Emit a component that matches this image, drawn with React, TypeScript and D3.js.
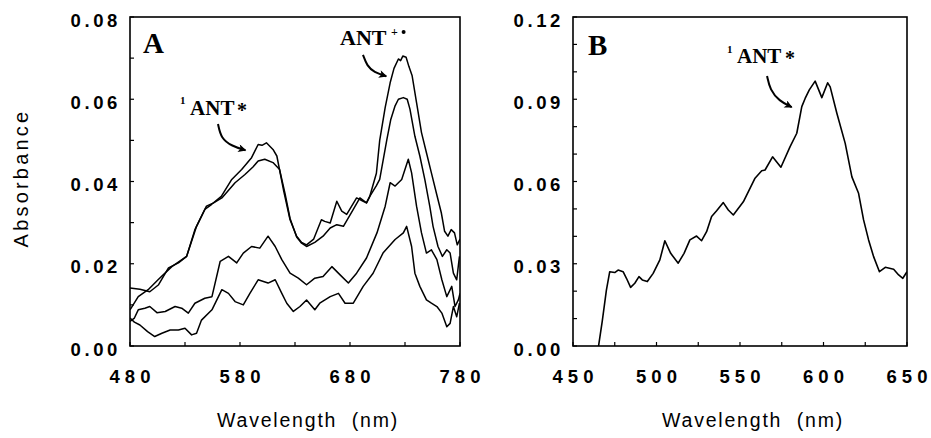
import React from 'react';
import * as d3 from 'd3';

// ---------- Data (wavelength nm, absorbance) ----------
const curveA1: [number, number][] = [
  [480, 0.0141], [489, 0.0138], [498, 0.0132], [506, 0.0149], [515, 0.019], [524, 0.0202], [531.5, 0.0218],
  [539, 0.0283], [548, 0.0332], [554, 0.0344], [563, 0.0364], [572.5, 0.0405], [581.5, 0.0429], [590.5, 0.0458],
  [596.5, 0.049], [600, 0.0488], [604, 0.0494], [610, 0.0478], [613.5, 0.0462], [619.5, 0.038], [625.5, 0.0307],
  [631.5, 0.0267], [636, 0.0252], [640.5, 0.0246], [647, 0.026], [654, 0.0307], [657, 0.0303], [662, 0.0299],
  [668, 0.0352], [672.5, 0.0328], [677, 0.032], [686, 0.036], [692, 0.0352], [695, 0.0348], [698, 0.0364],
  [704, 0.042], [707, 0.05], [712, 0.058], [716.5, 0.064], [720, 0.0675], [724, 0.0698], [726, 0.0694],
  [728, 0.0705], [731, 0.0702], [733.5, 0.068], [736.5, 0.0657], [740.5, 0.0592], [745, 0.0519], [749.5, 0.047],
  [754, 0.0421], [758.5, 0.0372], [763, 0.0324], [766, 0.0279], [769, 0.0267], [772, 0.0283], [775, 0.0275],
  [777.5, 0.0246], [780, 0.026],
];
const curveA2: [number, number][] = [
  [480, 0.0088], [487.5, 0.012], [496.5, 0.0137], [505.5, 0.0161], [518, 0.0193], [531.5, 0.0218], [540.5, 0.0291],
  [549.5, 0.034], [556, 0.0348], [563.5, 0.036], [575.5, 0.0397], [584.5, 0.0417], [592, 0.0436], [596.5, 0.045],
  [602.5, 0.0454], [610, 0.0446], [616, 0.0429], [621, 0.037], [625.5, 0.031], [631.5, 0.0265], [636, 0.025],
  [640.5, 0.0242], [648, 0.0252], [655.5, 0.0267], [662, 0.0287], [668, 0.0295], [674, 0.0291], [683, 0.0332],
  [689, 0.036], [695, 0.0348], [698, 0.0364], [704, 0.039], [707, 0.0405], [713.5, 0.0502], [717, 0.055],
  [721, 0.0584], [724, 0.06], [728.5, 0.0604], [732, 0.06], [734.5, 0.0576], [739, 0.051], [743.5, 0.0462],
  [748, 0.0405], [752.5, 0.034], [755.5, 0.0291], [760, 0.0242], [764, 0.0218], [768, 0.0234], [771, 0.0226],
  [774, 0.0177], [777, 0.0161], [779.5, 0.0218],
];
const curveA3: [number, number][] = [
  [480, 0.006], [484, 0.0068], [487.5, 0.0088], [493.5, 0.0092], [498, 0.0096], [504.5, 0.0081], [512, 0.0084],
  [521, 0.0096], [527, 0.0092], [533, 0.008], [539, 0.0104], [548, 0.0116], [554.5, 0.012], [562, 0.0206],
  [569.5, 0.0218], [577, 0.0202], [583, 0.0226], [590.5, 0.0242], [598, 0.0238], [605.5, 0.0267], [612, 0.0242],
  [618, 0.021], [625.5, 0.0177], [633, 0.0165], [640.5, 0.0149], [648, 0.0165], [655.5, 0.0169], [663.5, 0.0193],
  [671, 0.0173], [678.5, 0.0153], [686, 0.0177], [695, 0.0214], [704.5, 0.0275], [712, 0.034], [716.5, 0.0397],
  [721, 0.0389], [727, 0.0405], [733, 0.0454], [736, 0.0421], [740.5, 0.034], [745, 0.0275], [749.5, 0.0226],
  [754, 0.0234], [759, 0.021], [763.5, 0.0161], [768, 0.012], [772.5, 0.0145], [775.5, 0.0096], [778.5, 0.0112],
  [780, 0.0128],
];
const curveA4: [number, number][] = [
  [480, 0.0068], [484, 0.0058], [489, 0.0051], [496, 0.0035], [502.5, 0.0023], [509, 0.0031], [516.5, 0.0039],
  [524, 0.0039], [530, 0.0043], [536, 0.0027], [540.5, 0.0031], [545, 0.0063], [554.5, 0.0088], [563.5, 0.0137],
  [569.5, 0.0128], [575.5, 0.0108], [583, 0.01], [589, 0.0128], [596.5, 0.0161], [605.5, 0.0153], [612, 0.0161],
  [618, 0.0128], [622.5, 0.0104], [628.5, 0.0084], [634.5, 0.0096], [640.5, 0.0112], [648, 0.0088],
  [652.5, 0.0104], [662, 0.012], [669.5, 0.0128], [675.5, 0.0104], [683, 0.0104], [692, 0.0145], [701, 0.0177],
  [710, 0.0226], [721, 0.0259], [728.5, 0.0275], [731.5, 0.0291], [736, 0.0242], [739, 0.0177], [743.5, 0.0145],
  [749.5, 0.0112], [754, 0.0104], [759, 0.0096], [763.5, 0.008], [768, 0.0047], [771, 0.0055], [774, 0.0096],
  [777, 0.0071], [779.5, 0.0104],
];
const curveB: [number, number][] = [
  [465.3, 0], [467.5, 0.009], [470, 0.0204], [472, 0.0271], [475, 0.0268], [477, 0.0277], [480, 0.0271],
  [482, 0.0247], [484.5, 0.0214], [487, 0.0229], [489.5, 0.0253], [491.5, 0.0241], [494.5, 0.0235], [498, 0.0265],
  [502, 0.0314], [505, 0.0384], [508.5, 0.0338], [513, 0.0302], [516.5, 0.0338], [520, 0.0387], [524, 0.0401],
  [527, 0.0384], [530, 0.0417], [533, 0.0472], [536, 0.0493], [540, 0.0523], [543, 0.0496], [546, 0.0478],
  [552, 0.0526], [559, 0.0612], [563, 0.0639], [565, 0.0642], [569.5, 0.069], [574.5, 0.0652], [580, 0.0727],
  [584, 0.0776], [587, 0.0873], [589, 0.0903], [591.5, 0.0934], [595, 0.0966], [599, 0.0906], [602.5, 0.096],
  [604, 0.0945], [608, 0.0849], [613, 0.0739], [617, 0.0617], [621, 0.0557], [624, 0.046], [627, 0.0387],
  [630, 0.0326], [633.5, 0.0271], [637, 0.0287], [642, 0.028], [645, 0.0259], [647.5, 0.0247], [650, 0.0271],
];

// ---------- Axes ----------
const xTicksA = [480, 580, 680, 780];
const yTicksA = [0, 0.02, 0.04, 0.06, 0.08];
const xTicksB = [450, 500, 550, 600, 650];
const yTicksB = [0, 0.03, 0.06, 0.09, 0.12];
const xLabel = 'Wavelength  (nm)';
const yLabel = 'Absorbance';

// annotation anchors in data units
const arrowA1: [number, number][] = [[560, 0.054], [562.7, 0.0505], [572.7, 0.0486], [585, 0.0476]];
const arrowA2: [number, number][] = [[691.8, 0.0708], [695.5, 0.0681], [701.8, 0.0666], [713, 0.0656]];
const arrowB: [number, number][] = [[566.2, 0.0985], [568, 0.0934], [573.4, 0.0894], [581, 0.0871]];

const sans = '"Liberation Sans", Arial, sans-serif';
const serif = '"Liberation Serif", "Times New Roman", serif';

type Sc = d3.ScaleLinear<number, number>;

function Frame({ x, y, xMajor, xMinor, yMajor, yMinor, fmtY }: {
  x: Sc; y: Sc; xMajor: number[]; xMinor: number[]; yMajor: number[]; yMinor: number[]; fmtY: (v: number) => string;
}) {
  const [x0, x1] = x.range();
  const [y0, y1] = y.range();
  return (
    <g>
      <rect x={x0} y={y1} width={x1 - x0} height={y0 - y1} fill="none" stroke="#000" strokeWidth={1.6} />
      {xMajor.concat(xMinor).map((t) => (
        <line key={'xt' + t} x1={x(t)} x2={x(t)} y1={y0} y2={y0 - 4} stroke="#000" strokeWidth={1.2} />
      ))}
      {yMajor.concat(yMinor).map((t) => (
        <line key={'yt' + t} x1={x0} x2={x0 + 4} y1={y(t)} y2={y(t)} stroke="#000" strokeWidth={1.2} />
      ))}
      {xMajor.map((t) => (
        <text key={'xl' + t} x={x(t) + 2.5} y={383} textAnchor="middle" fontFamily={sans} fontWeight="bold"
          fontSize={18.5} letterSpacing={5}>{String(t)}</text>
      ))}
      {yMajor.map((t) => (
        <text key={'yl' + t} x={x0 - 9} y={y(t) + 9.5} textAnchor="end" fontFamily={sans} fontWeight="bold"
          fontSize={18.5} letterSpacing={3.6}>{fmtY(t)}</text>
      ))}
    </g>
  );
}

export default function App() {
  const xA = d3.scaleLinear().domain([480, 780]).range([130, 460]);
  const yA = d3.scaleLinear().domain([0, 0.08]).range([346, 17]);
  const xB = d3.scaleLinear().domain([450, 650]).range([573, 907]);
  const yB = d3.scaleLinear().domain([0, 0.12]).range([346, 17]);

  const lineA = d3.line<[number, number]>().x((d) => xA(d[0])).y((d) => yA(d[1]));
  const lineB = d3.line<[number, number]>().x((d) => xB(d[0])).y((d) => yB(d[1]));
  const arrA = d3.line<[number, number]>().x((d) => xA(d[0])).y((d) => yA(d[1])).curve(d3.curveBasis);
  const arrB = d3.line<[number, number]>().x((d) => xB(d[0])).y((d) => yB(d[1])).curve(d3.curveBasis);

  const fmt = d3.format('.2f');
  const minorA_y = [0.01, 0.03, 0.05, 0.07];
  const minorA_x = [530, 630, 730];
  const minorB_y = d3.range(1, 12).map((i) => i / 100).filter((v) => Math.round(v * 100) % 3 !== 0);
  const minorB_x = [475, 525, 575, 625];

  return (
    <div style={{ position: 'absolute', left: 0, top: 0 }}>
      <svg width={931} height={438} style={{ display: 'block', background: '#fff' }}>
        <defs>
          <clipPath id="clipA"><rect x={130} y={17} width={330} height={329} /></clipPath>
          <clipPath id="clipB"><rect x={573} y={17} width={334} height={329} /></clipPath>
          <marker id="head" viewBox="0 0 10 10" refX={9} refY={5} markerWidth={10} markerHeight={8}
            markerUnits="userSpaceOnUse" orient="auto">
            <path d="M0,0 L10,5 L0,10 L2.5,5 Z" fill="#000" />
          </marker>
        </defs>

        {/* Panel A */}
        <Frame x={xA} y={yA} xMajor={xTicksA} xMinor={minorA_x} yMajor={yTicksA} yMinor={minorA_y} fmtY={fmt} />
        <g clipPath="url(#clipA)" fill="none" stroke="#000" strokeWidth={1.5} strokeLinejoin="round">
          {[curveA1, curveA2, curveA3, curveA4].map((c, i) => (
            <path key={i} d={lineA(c) || ''} />
          ))}
        </g>
        <text x={xA(491.8)} y={yA(0.0712)} fontFamily={serif} fontWeight="bold" fontSize={29}>A</text>
        <g fontFamily={serif} fontWeight="bold">
          <text x={xA(525.5) + 0} y={yA(0.0562) - 11} fontSize={11}>1</text>
          <text x={xA(525.5) + 10} y={yA(0.0562)} fontSize={21}>ANT</text>
          <text x={xA(525.5) + 57} y={yA(0.0562) + 2} fontSize={20}>*</text>
        </g>
        <g fontFamily={serif} fontWeight="bold">
          <text x={xA(671)} y={yA(0.0732)} fontSize={22}>ANT</text>
          <text x={xA(671) + 51} y={yA(0.0732) - 9} fontSize={12}>+</text>
          <circle cx={xA(671) + 63.5} cy={yA(0.0732) - 13} r={2} fill="#000" />
        </g>
        <path d={arrA(arrowA1) || ''} fill="none" stroke="#000" strokeWidth={2} markerEnd="url(#head)" />
        <path d={arrA(arrowA2) || ''} fill="none" stroke="#000" strokeWidth={2} markerEnd="url(#head)" />

        {/* Panel B */}
        <Frame x={xB} y={yB} xMajor={xTicksB} xMinor={minorB_x} yMajor={yTicksB} yMinor={minorB_y} fmtY={fmt} />
        <g clipPath="url(#clipB)" fill="none" stroke="#000" strokeWidth={1.6} strokeLinejoin="round">
          <path d={lineB(curveB) || ''} />
        </g>
        <text x={xB(459)} y={yB(0.1061)} fontFamily={serif} fontWeight="bold" fontSize={29}>B</text>
        <g fontFamily={serif} fontWeight="bold">
          <text x={xB(542.2)} y={yB(0.1032) - 10} fontSize={11}>1</text>
          <text x={xB(542.2) + 10} y={yB(0.1032)} fontSize={21}>ANT</text>
          <text x={xB(542.2) + 58} y={yB(0.1032) + 2} fontSize={20}>*</text>
        </g>
        <path d={arrB(arrowB) || ''} fill="none" stroke="#000" strokeWidth={2} markerEnd="url(#head)" />

        {/* Axis titles */}
        <text transform="translate(28,178) rotate(-90)" textAnchor="middle" fontFamily={sans} fontSize={20}
          letterSpacing={3.2}>{yLabel}</text>
        <text x={308} y={427} textAnchor="middle" fontFamily={sans} fontSize={19.5} letterSpacing={1.8}
          style={{ whiteSpace: 'pre' }}>{xLabel}</text>
        <text x={753} y={427} textAnchor="middle" fontFamily={sans} fontSize={19.5} letterSpacing={1.8}
          style={{ whiteSpace: 'pre' }}>{xLabel}</text>
      </svg>
    </div>
  );
}
